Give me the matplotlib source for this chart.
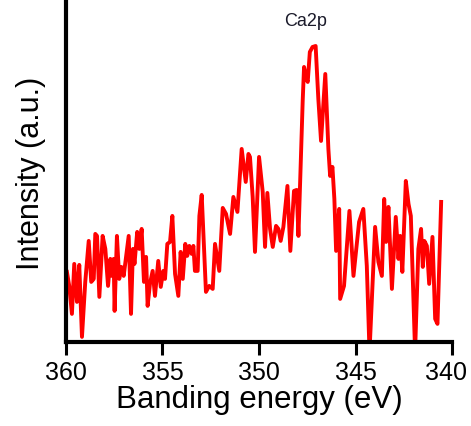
import matplotlib
matplotlib.use("Agg")
import matplotlib.pyplot as plt
from matplotlib.transforms import ScaledTranslation

plt.rcParams['font.family'] = ['Liberation Sans', 'DejaVu Sans']

# binding energy (eV) and intensity (arbitrary counts)
energy = [359.95, 359.83, 359.69, 359.57, 359.43, 359.31, 359.17, 359.00, 358.82, 358.69,
          358.56, 358.48, 358.39, 358.27, 358.10, 357.96, 357.82, 357.70, 357.62, 357.53,
          357.48, 357.36, 357.24, 357.13, 357.01, 356.75, 356.63, 356.53, 356.45, 356.37,
          356.31, 356.20, 356.08, 355.96, 355.85, 355.77, 355.65, 355.51, 355.39, 355.22,
          355.09, 354.96, 354.87, 354.75, 354.61, 354.49, 354.35, 354.18, 354.06, 353.95,
          353.82, 353.72, 353.61, 353.49, 353.40, 353.32, 353.18, 353.09, 352.97, 352.75,
          352.58, 352.40, 352.28, 352.06, 351.88, 351.71, 351.50, 351.33, 351.12, 350.90,
          350.69, 350.55, 350.47, 350.33, 350.21, 350.00, 349.81, 349.69, 349.57, 349.43,
          349.29, 349.12, 349.00, 348.88, 348.74, 348.53, 348.38, 348.19, 348.05, 347.96,
          347.74, 347.67, 347.54, 347.48, 347.37, 347.23, 347.07, 346.93, 346.79, 346.57,
          346.41, 346.32, 346.20, 346.10, 346.01, 345.85, 345.80, 345.60, 345.32, 345.11,
          344.82, 344.60, 344.42, 344.28, 343.99, 343.82, 343.64, 343.52, 343.42, 343.30,
          343.12, 342.92, 342.78, 342.69, 342.58, 342.40, 342.26, 342.14, 341.92, 341.75,
          341.61, 341.52, 341.44, 341.31, 341.19, 341.02, 340.88, 340.76, 340.57]
intensity = [70, 56, 28, 78, 40, 77, 5, 60, 101, 60,
             63, 108, 106, 45, 106, 93, 56, 83, 66, 83,
             31, 106, 63, 75, 66, 106, 28, 93, 78, 96,
             110, 93, 113, 60, 85, 36, 58, 71, 46, 81,
             55, 71, 63, 98, 100, 126, 68, 46, 90, 63,
             98, 86, 96, 88, 96, 71, 71, 126, 147, 50,
             56, 53, 98, 71, 134, 128, 108, 145, 130, 193,
             160, 188, 185, 145, 90, 185, 150, 95, 149, 113,
             95, 116, 113, 101, 115, 156, 91, 151, 152, 106,
             241, 275, 263, 260, 290, 295, 296, 243, 201, 268,
             193, 166, 175, 143, 91, 133, 43, 56, 131, 66,
             120, 133, 76, -10, 115, 80, 66, 143, 100, 135,
             53, 125, 83, 106, 70, 161, 138, 126, -10, 93,
             113, 75, 101, 96, 58, 105, 23, 18, 140]
ticks = [360, 355, 350, 345, 340]

fig = plt.figure(figsize=(4.71, 4.27), dpi=100)
ax = fig.add_axes([0.140, 0.197, 0.820, 0.796])
ax.plot(energy, intensity, color='red', linewidth=2.8)

ax.set_xlim(360, 340)
ax.set_ylim(0, 340)
ax.set_xticks(ticks)
ax.set_yticks([])
ax.tick_params(axis='x', direction='out', length=9, width=2.2, labelsize=18, pad=4)
for side in ['top', 'right']:
    ax.spines[side].set_visible(False)
for side in ['left', 'bottom']:
    ax.spines[side].set_linewidth(3)

# last label is pushed a bit left so it stays inside the figure
last = ax.get_xticklabels()[-1]
last.set_transform(last.get_transform() + ScaledTranslation(-0.06, 0, fig.dpi_scale_trans))

ax.set_xlabel('Banding energy (eV)', fontsize=22.5, labelpad=0)
ax.set_ylabel('Intensity (a.u.)', fontsize=22, labelpad=14)
ax.text(347.6, 313, 'Ca2p', fontsize=13, color='#1a1a2a', ha='center', va='bottom')

fig.savefig('out.png', dpi=100)
